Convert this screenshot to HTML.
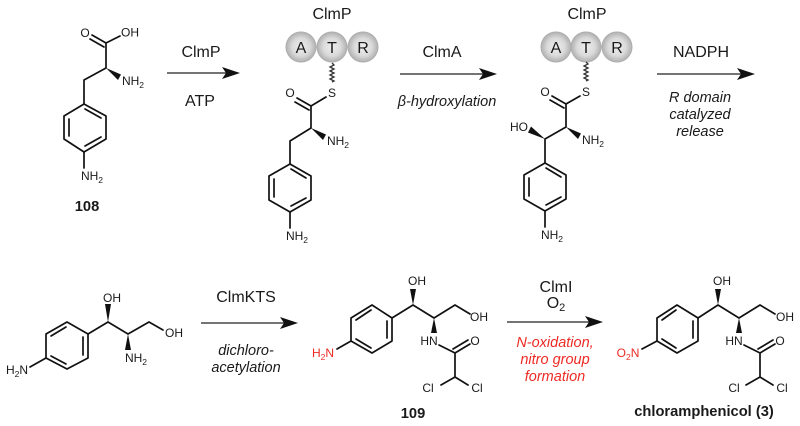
<!DOCTYPE html>
<html><head><meta charset="utf-8">
<style>
html,body{margin:0;padding:0;background:#fff;}
svg{display:block;}
text{font-family:"Liberation Sans",sans-serif;fill:#1a1a1a;}
.a{font-size:12px;text-anchor:middle;}
.s{font-size:8.500px;}
.l{font-size:16px;text-anchor:middle;}
.i{font-size:14.500px;text-anchor:middle;font-style:italic;}
.b{font-size:14.700px;font-weight:bold;text-anchor:middle;}
.red{fill:#ee2a24;}
.bn{stroke:#111;stroke-width:1.700;fill:none;stroke-linejoin:round;stroke-linecap:round;}
.thin{stroke:#222;stroke-width:1.300;fill:none;}
.w{fill:#111;stroke:none;}
.sq{stroke:#333;stroke-width:1.300;fill:none;}
.d{font-size:16px;text-anchor:middle;}
</style></head><body>
<svg width="800" height="426" viewBox="0 0 800 426" xmlns="http://www.w3.org/2000/svg">
<defs>
<radialGradient id="g" cx="50%" cy="50%" r="52%">
<stop offset="0%" stop-color="#eeeeee"/><stop offset="55%" stop-color="#dadada"/><stop offset="88%" stop-color="#b6b6b6"/><stop offset="100%" stop-color="#a0a0a0"/>
</radialGradient>
</defs>

<!-- 108 -->
<g class="bn">
<polygon points="84,104 106,116 106,139 84,152 64,139 64,116"/>
<path d="M85,109 L101,118 M69,119 V136 M101,137 L85,146"/>
<path d="M84,152 V168 M84,104 V80 L106,68 V43 L120,36 M106,43 L92,35 M104,47 L90,39"/>
</g>
<polygon class="w" points="106,68 121,74.500 118,80"/>
<text class="a" x="85" y="37">O</text>
<text class="a" x="130" y="36.500">OH</text>
<text class="a" x="133" y="85">NH<tspan class="s" dy="3">2</tspan></text>
<text class="a" x="92" y="180">NH<tspan class="s" dy="3">2</tspan></text>
<text class="b" x="87" y="211">108</text>

<!-- arrow 1 -->
<path class="thin" d="M167,73 H230"/><polygon class="w" points="222,67 240,73 222,79 226,73"/>
<text class="l" x="201" y="57">ClmP</text>
<text class="l" x="200" y="106">ATP</text>

<!-- thioester 1 -->
<text class="l" x="332" y="19">ClmP</text>
<circle cx="301" cy="47" r="15.500" fill="url(#g)"/>
<circle cx="363" cy="47" r="15.500" fill="url(#g)"/>
<circle cx="332" cy="47" r="15.500" fill="url(#g)"/>
<text class="d" x="301" y="53">A</text><text class="d" x="332" y="53">T</text><text class="d" x="363" y="53">R</text>
<path class="sq" d="M332,63 l2,2 -4,2 4,2 -4,2 4,2 -4,2 4,2 -4,2 4,2 -2,1"/>
<g class="bn">
<polygon points="290,164 311,176 311,200 290,212 269,200 269,176"/>
<path d="M291,169 L306,178 M274,179 V197 M306,198 L291,206"/>
<path d="M290,212 V228 M290,164 V141 L311,128 V106 L326,97 M311,106 L297,98 M309,110 L295,102"/>
</g>
<polygon class="w" points="311,128 326,134.500 323,140"/>
<text class="a" x="290" y="97">O</text>
<text class="a" x="332" y="97">S</text>
<text class="a" x="338" y="145">NH<tspan class="s" dy="3">2</tspan></text>
<text class="a" x="297" y="240">NH<tspan class="s" dy="3">2</tspan></text>

<!-- arrow 2 -->
<path class="thin" d="M400,74 H488"/><polygon class="w" points="479,68 497,74 479,80 483,74"/>
<text class="l" x="442" y="57">ClmA</text>
<text class="i" x="447" y="106">β-hydroxylation</text>

<!-- thioester 2 -->
<text class="l" x="587" y="19">ClmP</text>
<circle cx="556" cy="47" r="15.500" fill="url(#g)"/>
<circle cx="617" cy="47" r="15.500" fill="url(#g)"/>
<circle cx="586" cy="47" r="15.500" fill="url(#g)"/>
<text class="d" x="556" y="53">A</text><text class="d" x="586" y="53">T</text><text class="d" x="617" y="53">R</text>
<path class="sq" d="M586,62 l2,2 -4,2 4,2 -4,2 4,2 -4,2 4,2 -4,2 4,2 -2,1"/>
<g class="bn">
<polygon points="545,163 566,175 566,199 545,211 524,199 524,175"/>
<path d="M546,168 L561,177 M529,178 V196 M561,197 L546,205"/>
<path d="M545,211 V227 M545,163 V139 L566,127 V104 L580,96 M566,104 L552,96 M564,108 L550,100"/>
</g>
<polygon class="w" points="566,127 581,133.500 578,139"/>
<polygon class="w" points="545,139 528,132.500 531,126.500"/>
<text class="a" x="545" y="96">O</text>
<text class="a" x="586" y="96">S</text>
<text class="a" x="519" y="131">HO</text>
<text class="a" x="593" y="144">NH<tspan class="s" dy="3">2</tspan></text>
<text class="a" x="552" y="239">NH<tspan class="s" dy="3">2</tspan></text>

<!-- arrow 3 -->
<path class="thin" d="M657,74 H746"/><polygon class="w" points="737,68 755,74 737,80 741,74"/>
<text class="l" x="701" y="57">NADPH</text>
<text class="i" x="700" y="102">R domain</text>
<text class="i" x="700" y="119">catalyzed</text>
<text class="i" x="700" y="136">release</text>

<!-- amino diol -->
<g class="bn">
<polygon points="67,322 88,334 88,358 67,369 46,358 46,334"/>
<path d="M66,327 L51,336 M83,337 V355 M51,356 L66,364"/>
<path d="M46,358 L30,367 M88,334 L108,322 L128,334 L149,322 L163,330"/>
</g>
<polygon class="w" points="108,322 105,304 111,304"/>
<polygon class="w" points="128,334 125,350 131,350"/>
<text class="a" x="112" y="302">OH</text>
<text class="a" x="174" y="337">OH</text>
<text class="a" x="136" y="362">NH<tspan class="s" dy="3">2</tspan></text>
<text class="a" x="17" y="374">H<tspan class="s" dy="3">2</tspan><tspan dy="-3">N</tspan></text>

<!-- arrow 4 -->
<path class="thin" d="M201,323 H289"/><polygon class="w" points="280,317 298,323 280,329 284,323"/>
<text class="l" x="246" y="302">ClmKTS</text>
<text class="i" x="246" y="355">dichloro-</text>
<text class="i" x="246" y="372">acetylation</text>

<!-- 109 -->
<g class="bn">
<polygon points="372,305 392,318 392,341 372,353 351,341 351,318"/>
<path d="M371,310 L356,320 M387,321 V338 M356,339 L371,348"/>
<path d="M351,341 L337,349 M392,318 L413,305 L434,318 L455,305 L470,314 M439,345 L455,353 V377 L441,385 M455,377 L468,385 M455,353 L470,344 M453,349 L468,340"/>
</g>
<polygon class="w" points="413,305 410,289 416,289"/>
<polygon class="w" points="434,318 431,333 437,333"/>
<text class="a" x="417" y="285">OH</text>
<text class="a" x="479" y="321">OH</text>
<text class="a" x="429" y="345">HN</text>
<text class="a" x="475" y="345">O</text>
<text class="a" x="428" y="392">Cl</text>
<text class="a" x="477" y="392">Cl</text>
<text class="a red" x="323" y="357">H<tspan class="s red" dy="3">2</tspan><tspan class="red" dy="-3">N</tspan></text>
<text class="b" x="413" y="418">109</text>

<!-- arrow 5 -->
<path class="thin" d="M507,322 H594"/><polygon class="w" points="585,316 603,322 585,328 589,322"/>
<text class="l" x="556" y="292">ClmI</text>
<text class="l" x="556" y="308">O<tspan class="s" style="font-size:11px" dy="3">2</tspan></text>
<text class="i red" x="555" y="347">N-oxidation,</text>
<text class="i red" x="555" y="364">nitro group</text>
<text class="i red" x="555" y="381">formation</text>

<!-- chloramphenicol -->
<g class="bn">
<polygon points="677,305 698,318 698,341 677,353 657,341 657,318"/>
<path d="M676,310 L662,320 M693,321 V338 M662,339 L676,348"/>
<path d="M657,341 L642,349 M698,318 L718,305 L739,318 L760,305 L775,314 M744,345 L760,353 V377 L746,385 M760,377 L773,385 M760,353 L775,344 M758,349 L773,340"/>
</g>
<polygon class="w" points="718,305 715,289 721,289"/>
<polygon class="w" points="739,318 736,333 742,333"/>
<text class="a" x="722" y="285">OH</text>
<text class="a" x="785" y="321">OH</text>
<text class="a" x="734" y="345">HN</text>
<text class="a" x="780" y="345">O</text>
<text class="a" x="734" y="392">Cl</text>
<text class="a" x="782" y="392">Cl</text>
<text class="a red" x="628" y="357">O<tspan class="s red" dy="3">2</tspan><tspan class="red" dy="-3">N</tspan></text>
<text class="b" x="704" y="416">chloramphenicol (3)</text>
</svg>
</body></html>
